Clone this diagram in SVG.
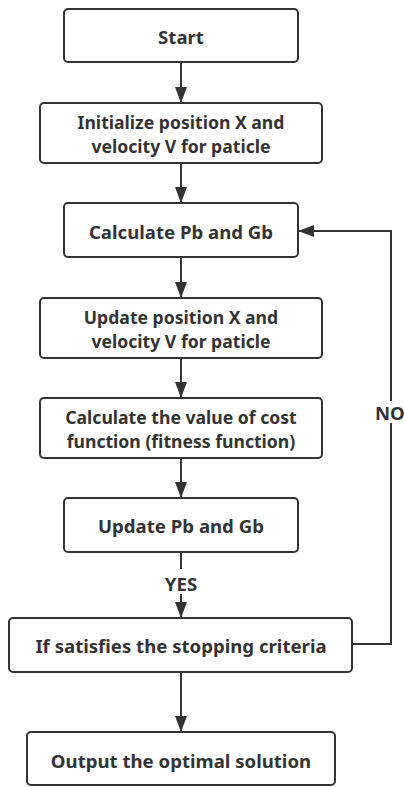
<svg xmlns="http://www.w3.org/2000/svg" width="404" height="787" viewBox="0 0 404 787">
<style>
.box{fill:#fff;stroke:#333;stroke-width:2}
.t{font-family:"Noto Sans","Open Sans",sans-serif;font-weight:bold;font-size:18.6px;fill:#333;text-anchor:middle}
.t2{font-size:17.6px}
.c{fill:none;stroke:#333;stroke-width:2}
</style>
<defs>
<marker id="ah" viewBox="0 0 16 12" refX="16" refY="6" markerWidth="16" markerHeight="12" markerUnits="userSpaceOnUse" orient="auto">
<path d="M0,0 L16,6 L0,12 Z" fill="#333"/>
</marker>
</defs>
<rect width="404" height="787" fill="#fff"/>
<g id="connectors">
<line class="c" x1="181" y1="62" x2="181" y2="103" marker-end="url(#ah)"/>
<line class="c" x1="181" y1="163" x2="181" y2="203" marker-end="url(#ah)"/>
<line class="c" x1="181" y1="257" x2="181" y2="298" marker-end="url(#ah)"/>
<line class="c" x1="181" y1="358" x2="181" y2="398" marker-end="url(#ah)"/>
<line class="c" x1="181" y1="458" x2="181" y2="498" marker-end="url(#ah)"/>
<line class="c" x1="181" y1="552" x2="181" y2="569"/>
<line class="c" x1="181" y1="594" x2="181" y2="618" marker-end="url(#ah)"/>
<line class="c" x1="181" y1="672" x2="181" y2="732" marker-end="url(#ah)"/>
<polyline class="c" points="352,644 391,644 391,423"/>
<polyline class="c" points="391,401 391,231 298,231" marker-end="url(#ah)"/>
<text class="t" x="181" y="591">YES</text>
<text class="t" x="375" y="420" style="text-anchor:start">NO</text>
</g>
<g id="start">
<rect class="box" x="64" y="9" width="234" height="53" rx="4"/>
<text class="t" x="181" y="44">Start</text>
</g>
<g id="init">
<rect class="box" x="40" y="103" width="282" height="60" rx="4"/>
<text class="t t2" x="181" y="128.5">Initialize position X and<tspan x="181" dy="24.2">velocity V for paticle</tspan></text>
</g>
<g id="calc">
<rect class="box" x="64" y="203" width="234" height="54" rx="4"/>
<text class="t" x="181" y="239">Calculate Pb and Gb</text>
</g>
<g id="update-pos">
<rect class="box" x="40" y="298" width="282" height="60" rx="4"/>
<text class="t t2" x="181" y="323.5">Update position X and<tspan x="181" dy="24.2">velocity V for paticle</tspan></text>
</g>
<g id="cost">
<rect class="box" x="40" y="398" width="282" height="60" rx="4"/>
<text class="t t2" x="181" y="423.5">Calculate the value of cost<tspan x="181" dy="24.2">function (fitness function)</tspan></text>
</g>
<g id="update-pb">
<rect class="box" x="64" y="498" width="234" height="54" rx="4"/>
<text class="t" x="181" y="533">Update Pb and Gb</text>
</g>
<g id="check">
<rect class="box" x="9" y="618" width="343" height="54" rx="4"/>
<text class="t" x="181" y="653">If satisfies the stopping criteria</text>
</g>
<g id="output">
<rect class="box" x="27" y="732" width="308" height="53" rx="4"/>
<text class="t" x="181" y="768">Output the optimal solution</text>
</g>
</svg>
